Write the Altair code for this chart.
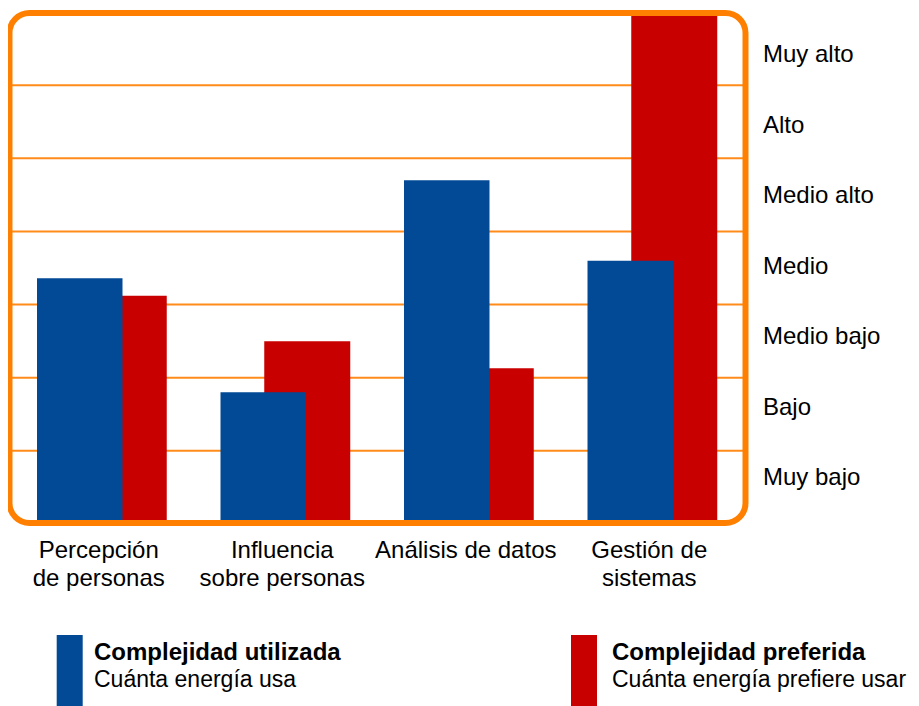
import altair as alt
import pandas as pd

# ---------------- data ----------------
categories = ["Percepción\nde personas", "Influencia\nsobre personas",
              "Análisis de datos", "Gestión de\nsistemas"]
utilizada = [3.36, 1.80, 4.70, 3.60]   # Complejidad utilizada (blue)
preferida = [3.12, 2.50, 2.13, 7.00]   # Complejidad preferida (red)
levels = ["Muy alto", "Alto", "Medio alto", "Medio", "Medio bajo", "Bajo", "Muy bajo"]
grid_values = [1, 2, 3, 4, 5, 6]
legend_titles = ["Complejidad utilizada", "Complejidad preferida"]
legend_subtitles = ["Cuánta energía usa", "Cuánta energía prefiere usar"]

BLUE = "#024A96"
RED = "#C80000"
ORANGE = "#FF8000"
ORANGE_GRID = "#FF8C1A"
FONT = "Liberation Sans"
FS = 24

W, H = 734, 512

df = pd.DataFrame({"cat": categories, "utilizada": utilizada, "preferida": preferida})
grid_df = pd.DataFrame({"g": grid_values})
levels_df = pd.DataFrame({"level": levels})
legend_df = pd.DataFrame({"idx": [0, 1], "title": legend_titles,
                          "sub": legend_subtitles, "color": [BLUE, RED]})

yscale = alt.Scale(domain=[0, 7], nice=False, zero=True)
xenc = alt.X("cat:N", sort=categories,
             scale=alt.Scale(paddingInner=0, paddingOuter=0), axis=None)

grid = alt.Chart(grid_df).mark_rule(color=ORANGE_GRID, strokeWidth=2).encode(
    y=alt.Y("g:Q", scale=yscale, axis=None)
)

red = alt.Chart(df).mark_bar(color=RED, width=86, xOffset=22).encode(
    x=xenc, y=alt.Y("preferida:Q", scale=yscale, axis=None)
)
blue = alt.Chart(df).mark_bar(color=BLUE, width=85.5, xOffset=-22).encode(
    x=xenc, y=alt.Y("utilizada:Q", scale=yscale, axis=None)
)

frame = alt.Chart(pd.DataFrame({"a": [0]})).mark_rect(
    filled=False, stroke=ORANGE, strokeWidth=6, cornerRadius=20
).encode(x=alt.value(-0.5), x2=alt.value(W + 1.5), y=alt.value(1), y2=alt.value(H - 1))

cat_text = alt.Chart(df).mark_text(
    font=FONT, fontSize=FS, lineBreak="\n", lineHeight=28,
    baseline="alphabetic", align="center", dx=-3, color="#000000"
).encode(x=xenc, y=alt.value(546), text="cat:N")

level_text = alt.Chart(levels_df).mark_text(
    font=FONT, fontSize=FS, align="left", baseline="alphabetic", color="#000000"
).encode(
    x=alt.value(W + 19),
    y=alt.Y("level:N", scale=alt.Scale(type="point", domain=levels,
                                       range=[50, 473], padding=0), axis=None),
    text="level:N",
)

leg_sym = alt.Chart(legend_df).mark_rect(x2Offset=26).encode(
    x=alt.X("idx:Q", scale=alt.Scale(domain=[0, 1], range=[46.7, 561]), axis=None),
    x2=alt.X2("idx"),
    y=alt.value(623), y2=alt.value(700),
    color=alt.Color("color:N", scale=None, legend=None),
)
leg_title = alt.Chart(legend_df).mark_text(
    font=FONT, fontSize=FS, fontWeight="bold", align="left",
    baseline="alphabetic", color="#000000"
).encode(
    x=alt.X("idx:Q", scale=alt.Scale(domain=[0, 1], range=[84, 602]), axis=None),
    y=alt.value(648), text="title:N",
)
leg_sub = alt.Chart(legend_df).mark_text(
    font=FONT, fontSize=23, align="left", baseline="alphabetic", color="#000000"
).encode(
    x=alt.X("idx:Q", scale=alt.Scale(domain=[0, 1], range=[84, 602]), axis=None),
    y=alt.value(675), text="sub:N",
)

chart = alt.layer(
    grid, red, blue, frame, cat_text, level_text, leg_sym, leg_title, leg_sub
).resolve_scale(x="independent", y="independent").properties(
    width=W, height=H,
    padding={"left": 2, "top": 4, "right": 167, "bottom": 182},
    autosize=alt.AutoSizeParams(type="none"),
).configure_view(stroke=None)

chart.save("out.html", embed_options={"renderer": "svg", "actions": False})
